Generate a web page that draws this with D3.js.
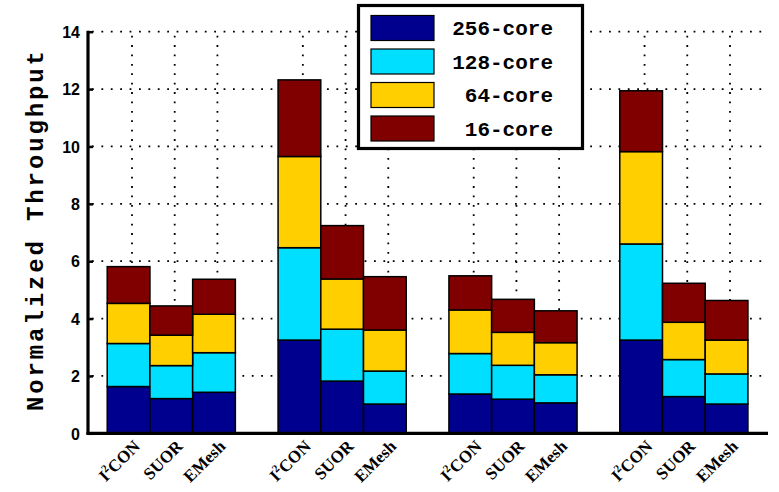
<!DOCTYPE html>
<html>
<head>
<meta charset="utf-8">
<script src="https://cdn.jsdelivr.net/npm/d3@7"></script>
<style>
  html, body { margin: 0; padding: 0; background: #fff; }
  svg { display: block; }
</style>
</head>
<body>
<svg id="chart" width="779" height="492"></svg>
<script>
// Benchmarks shown in each of the four groups
const benchmarks = ["I2CON", "SUOR", "EMesh"];
const groupCount = 4;

// Stack series, bottom to top
const seriesNames = ["256-core", "128-core", "64-core", "16-core"];
const seriesColors = ["#00008f", "#00dfff", "#ffcf00", "#800000"];

// Segment heights per bar (12 bars: 4 groups x 3 benchmarks)
const core256 = [1.63, 1.21, 1.43, 3.25, 1.82, 1.02, 1.37, 1.19, 1.06, 3.25, 1.28, 1.02];
const core128 = [1.50, 1.15, 1.38, 3.22, 1.81, 1.15, 1.41, 1.18, 0.98, 3.35, 1.29, 1.05];
const core64  = [1.40, 1.06, 1.34, 3.18, 1.75, 1.43, 1.52, 1.15, 1.12, 3.22, 1.30, 1.18];
const core16  = [1.28, 1.02, 1.22, 2.67, 1.86, 1.86, 1.19, 1.15, 1.11, 2.12, 1.36, 1.38];

const yTicks = [0, 2, 4, 6, 8, 10, 12, 14];

// Build table: each bar sits at slot g*4 + i + 1 (one empty slot between groups)
const rows = [];
for (let g = 0; g < groupCount; g++) {
  benchmarks.forEach((b, i) => {
    const k = g * 3 + i;
    rows.push({
      pos: g * 4 + i + 1,
      label: b,
      "256-core": core256[k],
      "128-core": core128[k],
      "64-core": core64[k],
      "16-core": core16[k]
    });
  });
}

const svg = d3.select("#chart");
const x = d3.scaleLinear().domain([0.05, 15.97]).range([88, 768]);
const y = d3.scaleLinear().domain([0, 14]).range([433.3, 31.7]);
const color = d3.scaleOrdinal().domain(seriesNames).range(seriesColors);

// Tick marks sit slightly right of bar centres
const tickShift = 0.08;
const xTickPos = rows.map(r => r.pos + tickShift);

// Dotted grid
const grid = svg.append("g").attr("stroke", "#000").attr("stroke-width", 1.8)
  .attr("stroke-dasharray", "1.8,7.6").attr("fill", "none");
grid.selectAll("line.h").data(yTicks.filter(t => t > 0)).join("line")
  .attr("class", "h")
  .attr("x1", x.range()[0] + 4).attr("x2", x.range()[1])
  .attr("y1", d => y(d)).attr("y2", d => y(d));
grid.selectAll("line.v").data(xTickPos).join("line")
  .attr("class", "v")
  .attr("x1", d => x(d)).attr("x2", d => x(d))
  .attr("y1", y(14) + 4).attr("y2", y(0));

// Stacked bars
const stack = d3.stack().keys(seriesNames);
const layers = stack(rows);
const bw = x(1) - x(0);
svg.append("g").selectAll("g").data(layers).join("g")
  .attr("fill", d => color(d.key))
  .selectAll("rect").data(d => d).join("rect")
  .attr("x", d => x(d.data.pos - 0.5))
  .attr("width", bw)
  .attr("y", d => y(d[1]))
  .attr("height", d => y(d[0]) - y(d[1]))
  .attr("stroke", "#000").attr("stroke-width", 1.5);

// Axes
const yAxis = d3.axisLeft(y).tickValues(yTicks).tickSize(-5).tickPadding(8).tickFormat(d3.format("d"));
const gy = svg.append("g").attr("transform", `translate(${x.range()[0]},0)`).call(yAxis);
gy.select(".domain").remove();
gy.selectAll(".tick line").attr("stroke", "#000").attr("stroke-width", 2.5);
gy.selectAll(".tick text")
  .attr("font-family", "'Liberation Sans', Arial, sans-serif")
  .attr("font-weight", "bold").attr("font-size", 16).attr("fill", "#000")
  .attr("dy", "0.36em");

svg.append("line")
  .attr("x1", x.range()[0]).attr("x2", x.range()[0])
  .attr("y1", y(14) - 1).attr("y2", y(0) + 1.5)
  .attr("stroke", "#000").attr("stroke-width", 3.2);
svg.append("line")
  .attr("x1", x.range()[0] - 1.5).attr("x2", x.range()[1])
  .attr("y1", y(0)).attr("y2", y(0))
  .attr("stroke", "#000").attr("stroke-width", 3.2);

// Category labels, slanted 45 degrees
const xl = svg.append("g")
  .attr("font-family", "'Liberation Serif', 'Times New Roman', serif")
  .attr("font-weight", "bold").attr("font-size", 17).attr("fill", "#000");
rows.forEach(r => {
  const tx = x(r.pos + tickShift) + 9;
  const ty = y(0) + 14;
  const t = xl.append("text")
    .attr("text-anchor", "end")
    .attr("transform", `translate(${tx},${ty}) rotate(-45)`);
  if (r.label === "I2CON") {
    t.append("tspan").text("I");
    t.append("tspan").attr("font-size", 11).attr("dy", -7).text("2");
    t.append("tspan").attr("dy", 7).text("CON");
  } else {
    t.text(r.label);
  }
});

// Y axis title
svg.append("text")
  .attr("transform", `translate(43,231) rotate(-90)`)
  .attr("text-anchor", "middle")
  .attr("font-family", "'Liberation Mono', 'Courier New', monospace")
  .attr("font-size", 24).attr("font-weight", "bold").attr("fill", "#000")
  .attr("textLength", 360).attr("lengthAdjust", "spacing")
  .text("Normalized Throughput");

// Legend
const lg = svg.append("g");
lg.append("rect")
  .attr("x", 358.5).attr("y", 5.5).attr("width", 224).attr("height", 143)
  .attr("fill", "#fff").attr("stroke", "#000").attr("stroke-width", 3.2);
seriesNames.forEach((name, i) => {
  const cy = 28 + i * 33.5;
  lg.append("rect")
    .attr("x", 371).attr("y", cy - 12.5).attr("width", 63).attr("height", 25)
    .attr("fill", color(name)).attr("stroke", "#000").attr("stroke-width", 1.2);
  lg.append("text")
    .attr("x", 553).attr("y", cy + 7)
    .attr("text-anchor", "end")
    .attr("font-family", "'Liberation Mono', 'Courier New', monospace")
    .attr("font-size", 21).attr("font-weight", "bold").attr("fill", "#000")
    .text(name);
});
</script>
</body>
</html>
